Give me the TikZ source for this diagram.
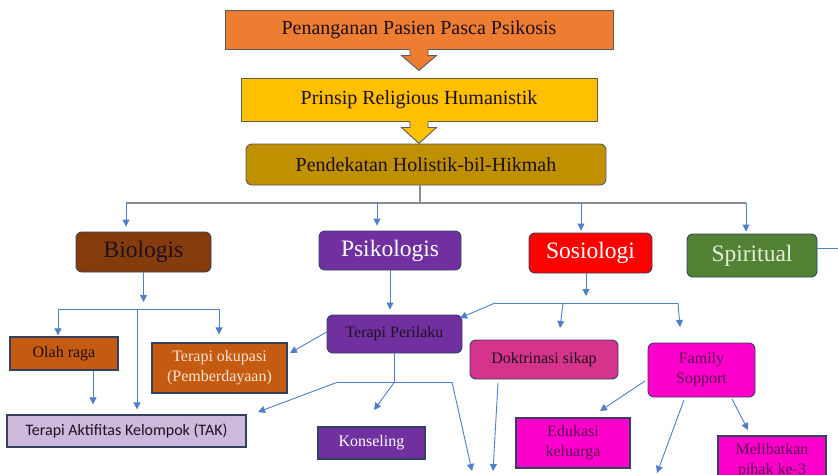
\documentclass[tikz,border=0pt]{standalone}
\usepackage{fontspec}
\setmainfont{Liberation Serif}
\newfontfamily\calfont{Carlito}
\usetikzlibrary{arrows.meta,calc}

\definecolor{cPen}{HTML}{ED7D31}
\definecolor{cPrin}{HTML}{FFC000}
\definecolor{cPend}{HTML}{BF9000}
\definecolor{cBio}{HTML}{843C0C}
\definecolor{cPsi}{HTML}{7030A0}
\definecolor{cSos}{HTML}{FF0000}
\definecolor{cSpi}{HTML}{548235}
\definecolor{cOra}{HTML}{C55A11}
\definecolor{cTak}{HTML}{CDB9DC}
\definecolor{cDok}{HTML}{D6348A}
\definecolor{cMag}{HTML}{FF00CC}
\definecolor{cLine}{HTML}{4F7FC8}
\definecolor{cBus}{HTML}{8C8C8C}
\definecolor{edgeTop}{HTML}{5A5A5A}
\definecolor{edgeBox}{HTML}{33405E}
\definecolor{txtDark}{HTML}{1E1020}
\definecolor{txtMag}{HTML}{5A0A50}
\definecolor{txtSpi}{HTML}{E2EFDA}
\definecolor{txtOku}{HTML}{FBE5D6}

\begin{document}
\begin{tikzpicture}[x=1pt,y=-1pt,
  box/.style={draw=edgeBox, line width=0.9pt, inner sep=2pt, align=center, text=txtDark},
  topbox/.style={box, draw=edgeTop},
  rbox/.style={box, rounded corners=6pt},
  bigtxt/.style={font=\fontsize{20}{24}\selectfont},
  cattxt/.style={font=\fontsize{23.5}{28}\selectfont},
  leaftxt/.style={font=\fontsize{16}{20}\selectfont},
  conn/.style={draw=cLine, line width=0.9pt},
  arr/.style={conn, -{Triangle[length=7pt,width=7pt]}},
  busline/.style={draw=cBus, line width=1.6pt},
  callout/.style={draw=edgeTop, line width=0.9pt, line join=miter}]

\clip (0,0) rectangle (838,474);
\fill[white] (0,0) rectangle (838,474);

% --- top chain
\node[topbox, bigtxt, fill=cPen, minimum width=388pt, minimum height=39pt] (pen) at (419,29.5) {Penanganan Pasien Pasca Psikosis};
\node[topbox, bigtxt, fill=cPrin, minimum width=356pt, minimum height=43pt] (prin) at (419,99.5) {Prinsip Religious Humanistik};
\node[topbox, bigtxt, rounded corners=6pt, fill=cPend, minimum width=360pt, minimum height=41pt] (pend) at (426,164.5) {Pendekatan Holistik-bil-Hikmah};

% callout arrows under the first two boxes
\begin{scope}[shift={(pen.south)}]
  \fill[cPen] (-9,-1) -- (-9,6) -- (-17.5,6) -- (0,21) -- (17.5,6) -- (9,6) -- (9,-1) -- cycle;
  \draw[callout] (-9,0) -- (-9,6) -- (-17.5,6) -- (0,21) -- (17.5,6) -- (9,6) -- (9,0);
\end{scope}
\begin{scope}[shift={(prin.south)}]
  \fill[cPrin] (-9,-1) -- (-9,6) -- (-17.5,6) -- (0,22) -- (17.5,6) -- (9,6) -- (9,-1) -- cycle;
  \draw[callout] (-9,0) -- (-9,6) -- (-17.5,6) -- (0,22) -- (17.5,6) -- (9,6) -- (9,0);
\end{scope}

% --- four dimensions
\node[rbox, cattxt, fill=cBio, minimum width=135pt, minimum height=40pt] (bio) at (143.5,252) {Biologis};
\node[rbox, cattxt, fill=cPsi, text=white, minimum width=142pt, minimum height=39pt] (psi) at (390,250.5) {Psikologis};
\node[rbox, cattxt, fill=cSos, text=white, minimum width=123pt, minimum height=40pt] (sos) at (590.5,253) {Sosiologi};
\node[rbox, cattxt, fill=cSpi, text=txtSpi, minimum width=130pt, minimum height=43pt] (spi) at (752,255.5) {Spiritual};

% --- interventions
\node[box, leaftxt, fill=cOra, line width=1.3pt, minimum width=108pt, minimum height=33pt] (ola) at (64,353.5) {Olah raga};
\node[box, leaftxt, fill=cOra, text=txtOku, line width=1.3pt, minimum width=135pt, minimum height=50pt] (oku) at (219.5,368) {Terapi okupasi\\(Pemberdayaan)};
\node[box, font=\calfont\fontsize{16}{20}\selectfont, fill=cTak, line width=1.3pt, minimum width=239pt, minimum height=32pt] (tak) at (126.5,431) {Terapi Aktifitas Kelompok (TAK)};
\node[rbox, leaftxt, fill=cPsi, minimum width=135pt, minimum height=38pt] (per) at (394.5,334) {Terapi Perilaku};
\node[box, leaftxt, fill=cPsi, text=white, line width=1.3pt, minimum width=107pt, minimum height=32pt] (kon) at (371.5,443) {Konseling};
\node[rbox, leaftxt, fill=cDok, minimum width=148pt, minimum height=39pt] (dok) at (544,359.5) {Doktrinasi sikap};
\node[rbox, leaftxt, fill=cMag, text=txtMag, minimum width=107pt, minimum height=54pt] (fam) at (701.5,370) {Family\\Sopport};
\node[box, leaftxt, fill=cMag, text=txtMag, line width=1.3pt, minimum width=114pt, minimum height=50pt] (edu) at (573,443) {Edukasi\\keluarga};
\node[box, leaftxt, fill=cMag, text=txtMag, line width=1.3pt, minimum width=108pt, minimum height=50pt] (mel) at (772,461) {Melibatkan\\pihak ke-3};

% --- main distribution bus
\coordinate (hub) at (420,203);
\coordinate (d1) at (126,203);
\coordinate (d2) at (377,203);
\coordinate (d3) at (581,203);
\coordinate (d4) at (746,203);
\draw[busline] (hub |- pend.south) -- (hub);
\draw[busline] (d1) -- (d4);
\draw[arr, shorten >=5pt] (d1) -- (d1 |- bio.north);
\draw[arr, shorten >=5pt] (d2) -- (d2 |- psi.north);
\draw[arr, shorten >=2pt] (d3) -- (d3 |- sos.north);
\draw[arr, shorten >=2pt] (d4) -- (d4 |- spi.north);
\coordinate (spiOut) at (838,248);
\draw[conn] (spi.east |- spiOut) -- (spiOut);

% --- biologis branch
\coordinate (bL) at (58,309);
\coordinate (bM) at (137,309);
\coordinate (bR) at (219,309);
\draw[arr, shorten >=7pt] (bio.south) -- (bio.south |- bM);
\draw[conn] (bL) -- (bR);
\draw[arr, shorten >=1pt] (bL) -- (bL |- ola.north);
\draw[arr, shorten >=8pt] (bR) -- (bR |- oku.north);
\draw[arr, shorten >=5pt] (bM) -- (bM |- tak.north);
\coordinate (oa) at ([xshift=29pt]ola.south);
\draw[arr, shorten >=10pt] (oa) -- (oa |- tak.north);

% --- psikologis branch
\draw[arr, shorten >=5pt] (psi.south) -- (psi.south |- per.north);
\coordinate (okuIn) at (290,353);
\draw[arr] ([yshift=2pt]per.west) -- (okuIn);
\coordinate (pb) at (394.5,382);
\coordinate (pL) at (338,382);
\coordinate (pR) at (452,382);
\draw[conn] (per.south) -- (pb);
\draw[conn] (pL) -- (pR);
\coordinate (takIn) at (258,412);
\coordinate (konIn) at (374,410);
\coordinate (offA) at (472,471);
\draw[arr] (pL) -- (takIn);
\draw[arr] (pb) -- (konIn);
\draw[arr] (pR) -- (offA);

% --- sosiologi branch
\coordinate (ss) at ([xshift=-4.5pt]sos.south);
\coordinate (sL) at (495,303);
\coordinate (sM) at (563,303);
\coordinate (sR) at (678,303);
\draw[arr, shorten >=7pt] (ss) -- (ss |- sL);
\draw[conn] (sL) -- (sR);
\coordinate (perIn) at (460,318);
\coordinate (dokIn) at (560,328);
\coordinate (famIn) at (680,327);
\draw[arr] (sL) -- (perIn);
\draw[arr] (sM) -- (dokIn);
\draw[arr] (sR) -- (famIn);
\coordinate (dokOut) at (498,383);
\coordinate (offB) at (493,471);
\draw[arr] (dokOut) -- (offB);

% --- family support branch
\coordinate (f1) at (645,381);
\coordinate (f2) at (684,400);
\coordinate (f3) at (732,399);
\coordinate (eduIn) at (600,411);
\coordinate (offC) at (657,473);
\coordinate (melIn) at (748,430);
\draw[arr] (f1) -- (eduIn);
\draw[arr] (f2) -- (offC);
\draw[arr] (f3) -- (melIn);
\end{tikzpicture}
\end{document}
